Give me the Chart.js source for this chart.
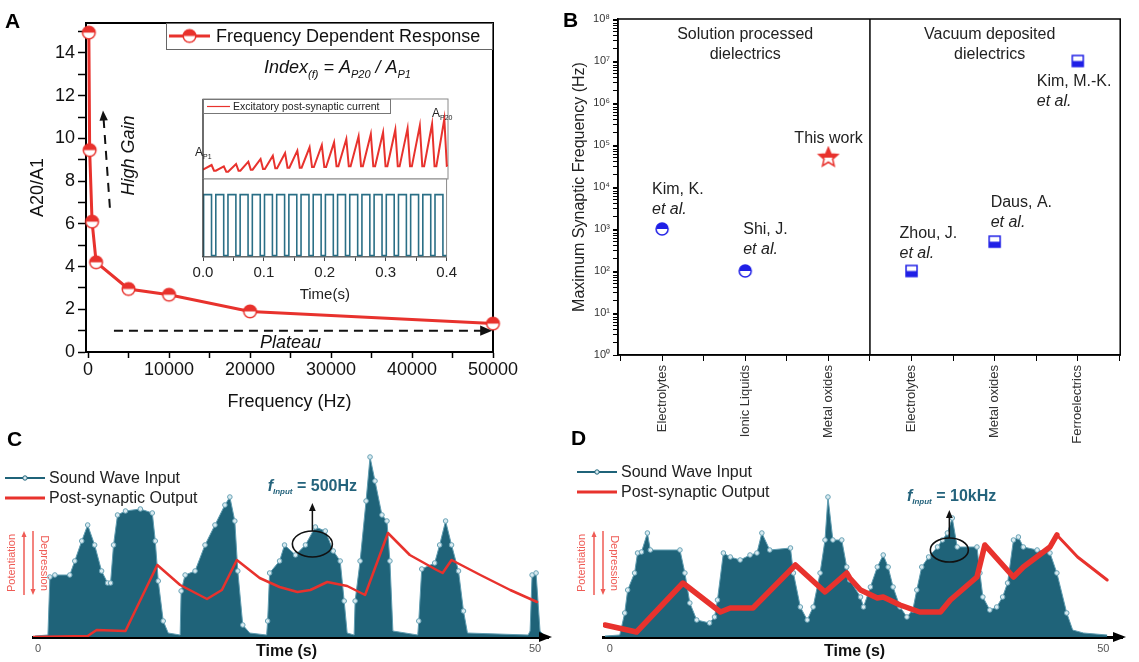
<!DOCTYPE html>
<html>
<head>
<meta charset="utf-8">
<script src="https://cdn.jsdelivr.net/npm/chart.js@4.4.1/dist/chart.umd.min.js"></script>
<style>
html,body{margin:0;padding:0;background:#fff;}
body{position:relative;width:1139px;height:662px;overflow:hidden;}
canvas{position:absolute;}
.lab{position:absolute;font:bold 21px "Liberation Sans",Arial,sans-serif;color:#000;line-height:1;}
</style>
</head>
<body>
<canvas id="cA" width="560" height="418" style="left:0;top:0"></canvas>
<canvas id="cI1" width="310" height="95" style="left:150px;top:90px"></canvas>
<canvas id="cI2" width="310" height="140" style="left:150px;top:170px"></canvas>
<canvas id="cB" width="579" height="455" style="left:560px;top:0"></canvas>
<canvas id="cC" width="560" height="242" style="left:0;top:420px"></canvas>
<canvas id="cD" width="579" height="242" style="left:560px;top:420px"></canvas>
<div class="lab" style="left:5px;top:10px">A</div>
<div class="lab" style="left:563px;top:9px">B</div>
<div class="lab" style="left:7px;top:428px">C</div>
<div class="lab" style="left:571px;top:427px">D</div>
<script>
// ---------------- DATA ----------------
// Panel A: frequency dependent response
const freqHz = [100, 200, 500, 1000, 5000, 10000, 20000, 50000];
const indexRatio = [14.95, 9.45, 6.1, 4.2, 2.95, 2.68, 1.9, 1.33];
const freqTicks = [0, 10000, 20000, 30000, 40000, 50000];
const freqMinorTicks = [0, 5000, 10000, 15000, 20000, 25000, 30000, 35000, 40000, 45000, 50000];
const ratioTicks = [0, 2, 4, 6, 8, 10, 12, 14];
const ratioMinorTicks = [0, 1, 2, 3, 4, 5, 6, 7, 8, 9, 10, 11, 12, 13, 14, 15];

// Inset: pulse train and EPSC
const pulseOn  = [0.001,0.021,0.041,0.061,0.081,0.101,0.121,0.141,0.161,0.181,0.201,0.221,0.241,0.261,0.281,0.301,0.321,0.341,0.361,0.381];
const pulseOff = [0.014,0.034,0.054,0.074,0.094,0.114,0.134,0.154,0.174,0.194,0.214,0.234,0.254,0.274,0.294,0.314,0.334,0.354,0.374,0.394];
const sqLow = 0.02, sqHigh = 0.8;
const epscStart = 28;
const epscPeak   = [42, 38, 45, 52, 60, 70, 78, 85, 95, 102, 110, 120, 128, 135, 140, 148, 152, 160, 165, 180];
const epscTrough = [25, 22, 25, 28, 30, 32, 34, 34, 36, 36, 38, 38, 38, 38, 38, 38, 38, 38, 38, 40];
const insetTimeTicks = [0, 0.1, 0.2, 0.3, 0.4];
const insetMinorTicks = [0, 0.05, 0.1, 0.15, 0.2, 0.25, 0.3, 0.35, 0.4];

// Panel B
const bCategories = ['Electrolytes', 'Ionic Liquids', 'Metal oxides', 'Electrolytes', 'Metal oxides', 'Ferroelectrics'];
const bRefs = ['Kim, K.', 'Shi, J.', 'This work', 'Zhou, J.', 'Daus, A.', 'Kim, M.-K.'];
const bMaxFreq = [1e3, 1e2, 5e4, 1e2, 5e2, 1e7];
const bGroups = [['Solution processed', 'dielectrics'], ['Vacuum deposited', 'dielectrics']];
const bTickLabels = ['10\u2070','10\u00b9','10\u00b2','10\u00b3','10\u2074','10\u2075','10\u2076','10\u2077','10\u2078'];
const bTickPos = [-0.5, 0, 0.5, 1, 1.5, 2, 2.5, 3, 3.5, 4, 4.5, 5, 5.5];

// Panel C (500 Hz)
const timeTicks = [0, 50];
const cTime  = [-0.3,1.0,1.2,1.7,3.2,3.7,4.4,5.0,5.7,6.4,7.0,7.3,7.6,8.0,8.8,10.3,11.5,11.8,12.1,12.6,13.1,14.3,14.4,14.8,15.8,16.8,17.8,18.8,19.3,19.8,20.1,20.6,21.3,23.0,23.1,23.3,24.3,24.8,25.9,26.9,27.9,28.9,29.7,30.4,30.8,31.1,31.8,31.9,32.4,33.0,33.4,33.9,34.6,35.1,35.4,35.7,38.2,38.3,38.6,39.9,40.4,41.0,41.6,42.3,42.8,43.2,49.3,49.5,49.7,50.1,50.5,51.0];
const cInput = [0.5,1,30,31,31,38,48,56,46,33,27,27,46,61,63,64,62,48,28,8,2,1,23,31,33,46,56,66,70,58,33,6,2,1,8,32,38,46,41,46,55,53,43,38,18,2,1,18,38,68,90,78,61,58,38,3,1,8,34,37,46,58,46,33,13,2,1,3,31,32,3,0.5];
const cOutTime = [-0.5,5.0,5.9,8.8,12.0,14.3,17.0,18.5,20.0,22.3,24.3,26.1,27.4,29.1,31.1,32.9,35.2,37.4,40.1,40.7,41.6,44.5,47.5,50.2];
const cOutput  = [0,0.5,3.5,3,36,26,19,23.5,38.5,29.5,25,22.5,23.5,27.5,25.5,21,52,41,33.5,32,38.5,31,23.5,17.5];

// Panel D (10 kHz)
const dTime  = [-0.5,1.0,1.5,1.8,2.5,2.8,3.2,3.8,4.1,7.1,7.6,8.1,8.8,10.1,10.6,10.9,11.5,12.2,13.2,14.2,14.9,15.4,16.2,18.3,18.6,19.3,20.0,20.6,21.3,21.8,22.1,22.6,23.5,24.0,24.3,25.4,25.7,26.4,27.1,27.7,28.2,28.7,29.4,30.1,30.7,31.1,31.6,32.3,33.2,33.7,34.2,34.7,35.2,37.2,37.5,37.8,38.5,39.2,39.8,40.3,40.9,41.4,41.9,43.3,44.6,45.3,46.3,46.9,48.0,50.4];
const dInput = [0.5,1,12,23.5,32,42,42.5,52,43.5,43.5,32,17,8.5,7,10,18.5,42,40,38.5,41,42,52,43.5,44.5,32,15,8.5,15,32,48.5,70,48.5,48.5,35,28.5,20,15,25,35,41,35,25,15,10,13.5,23.5,35,40,45,48.5,52,59.5,45,45,32,20,13.5,15,20,27,48.5,50,45,43.5,42,32,12,3.5,2,1];
const dOutTime = [-0.5,2.7,7.4,11.2,12.2,14.5,18.8,21.8,24.0,24.3,25.4,27.1,27.7,29.4,31.4,33.5,34.5,37.2,38.0,40.9,41.9,44.6,45.3,47.4,50.4];
const dOutput  = [6,2.5,27,12.5,14.5,14.5,36,22.5,32,29.5,23.5,19.5,20,16,12.5,12.5,18.5,30,46,30,35,45,51,40,28.5];

// ---------------- STYLE ----------------
const RED = '#e8322d', TEAL = '#1f6379', BLUE = '#1f1fe6', LABTEAL = '#24637c';
const FONT = '"Liberation Sans", Arial, Helvetica, sans-serif';
const f = (s, st) => (st ? st + ' ' : '') + s + 'px ' + FONT;

function shapePath(g, shape, cx, cy, r) {
  g.beginPath();
  if (shape === 'circle') g.arc(cx, cy, r, 0, Math.PI * 2);
  else if (shape === 'square') g.rect(cx - r, cy - r, 2 * r, 2 * r);
  else {
    for (let i = 0; i < 10; i++) {
      const ang = -Math.PI / 2 + i * Math.PI / 5, rad = i % 2 === 0 ? r : r * 0.45;
      const px = cx + rad * Math.cos(ang), py = cy + rad * Math.sin(ang);
      i === 0 ? g.moveTo(px, py) : g.lineTo(px, py);
    }
  }
  g.closePath();
}
function halfMarker(shape, r, color, fillTop) {
  const c = document.createElement('canvas');
  const s = Math.ceil(2 * r + 4); c.width = s; c.height = s;
  const g = c.getContext('2d'); const cx = s / 2, cy = s / 2;
  shapePath(g, shape, cx, cy, r); g.fillStyle = '#fff'; g.fill();
  g.save(); g.beginPath();
  if (fillTop) g.rect(0, 0, s, cy); else g.rect(0, cy, s, s);
  g.clip(); shapePath(g, shape, cx, cy, r); g.fillStyle = color; g.fill(); g.restore();
  shapePath(g, shape, cx, cy, r); g.lineWidth = 1.5; g.strokeStyle = color; g.stroke();
  return c;
}
const markA = halfMarker('circle', 6.3, RED, true);
const circB = halfMarker('circle', 6, BLUE, true);
const sqB = halfMarker('square', 5.5, BLUE, false);
const starR = halfMarker('star', 10, RED, true);
const bMarkers = [circB, circB, starR, sqB, sqB, sqB];

function line(ctx, x1, y1, x2, y2) { ctx.beginPath(); ctx.moveTo(x1, y1); ctx.lineTo(x2, y2); ctx.stroke(); }
function head(ctx, x, y, ang, size, w) {
  ctx.save(); ctx.translate(x, y); ctx.rotate(ang);
  ctx.beginPath(); ctx.moveTo(0, 0); ctx.lineTo(-size, -w); ctx.lineTo(-size, w); ctx.closePath(); ctx.fill(); ctx.restore();
}
function arrow(ctx, x1, y1, x2, y2, dash, lw, color, size) {
  const ang = Math.atan2(y2 - y1, x2 - x1);
  ctx.save(); ctx.strokeStyle = color; ctx.fillStyle = color; ctx.lineWidth = lw; ctx.setLineDash(dash);
  line(ctx, x1, y1, x2 - Math.cos(ang) * size * 0.8, y2 - Math.sin(ang) * size * 0.8);
  ctx.setLineDash([]); head(ctx, x2, y2, ang, size, size * 0.42); ctx.restore();
}
function rich(ctx, parts, x, y, align) {
  let w = 0; parts.forEach(p => { ctx.font = p[1]; w += ctx.measureText(p[0]).width; });
  let cx = align === 'center' ? x - w / 2 : (align === 'right' ? x - w : x);
  ctx.textAlign = 'left'; ctx.textBaseline = 'alphabetic';
  parts.forEach(p => { ctx.font = p[1]; ctx.fillText(p[0], cx, y + (p[2] || 0)); cx += ctx.measureText(p[0]).width; });
}
function rotText(ctx, txt, x, y, ang, font, color) {
  ctx.save(); ctx.translate(x, y); ctx.rotate(ang); ctx.font = font; ctx.fillStyle = color;
  ctx.textAlign = 'center'; ctx.textBaseline = 'middle'; ctx.fillText(txt, 0, 0); ctx.restore();
}
const frame = (w, color, id) => ({ id: id || 'frame', beforeDatasetsDraw(ch) {
  const { ctx, chartArea: a } = ch; ctx.save(); ctx.strokeStyle = color; ctx.lineWidth = w;
  ctx.strokeRect(a.left, a.top, a.right - a.left, a.bottom - a.top); ctx.restore(); } });
const base = { responsive: false, animation: false, events: [], plugins: { legend: { display: false }, tooltip: { enabled: false } } };

// ---------------- PANEL A ----------------
new Chart(document.getElementById('cA'), {
  type: 'line',
  data: { datasets: [{ data: freqHz.map((v, i) => ({ x: v, y: indexRatio[i] })), borderColor: RED, borderWidth: 3,
    pointStyle: markA, pointRadius: 7, tension: 0, fill: false, clip: false }] },
  options: Object.assign({}, base, {
    layout: { padding: { left: 0, top: 23, right: 67, bottom: 0 } },
    scales: {
      x: { type: 'linear', min: -250, max: 50000,
        afterBuildTicks: s => { s.ticks = freqMinorTicks.map(v => ({ value: v })); },
        ticks: { autoSkip: false, maxRotation: 0, padding: 1, color: '#111', font: { size: 18, family: FONT },
          callback: v => freqTicks.includes(v) ? String(v) : '' },
        grid: { drawOnChartArea: false, tickLength: 6, tickColor: '#000', tickWidth: 1.5 },
        border: { color: '#000', width: 2 },
        title: { display: true, text: 'Frequency (Hz)', color: '#111', font: { size: 18, family: FONT }, padding: { top: 0, bottom: 5 } },
        afterFit: s => { s.height = 66; } },
      y: { type: 'linear', min: 0, max: 15.4,
        afterBuildTicks: s => { s.ticks = ratioMinorTicks.map(v => ({ value: v })); },
        ticks: { autoSkip: false, padding: 3, color: '#111', font: { size: 18, family: FONT },
          callback: v => ratioTicks.includes(v) ? String(v) : '' },
        grid: { drawOnChartArea: false, tickLength: 8, tickColor: '#000', tickWidth: 1.5 },
        border: { color: '#000', width: 2 },
        title: { display: true, text: 'A20/A1', color: '#111', font: { size: 18, family: FONT }, padding: { top: 27, bottom: 0 } },
        afterFit: s => { s.width = 86; } }
    }
  }),
  plugins: [frame(2, '#000'), { id: 'annA', afterDraw(ch) {
    const { ctx, chartArea: a, scales: { x, y } } = ch;
    ctx.save();
    const bx = a.right - 327, by = a.top;
    ctx.strokeStyle = '#666'; ctx.lineWidth = 1; ctx.strokeRect(bx + 0.5, by + 0.5, 326, 26);
    ctx.strokeStyle = RED; ctx.lineWidth = 3; line(ctx, bx + 3, by + 13, bx + 44, by + 13);
    ctx.drawImage(markA, bx + 23.5 - markA.width / 2, by + 13 - markA.height / 2);
    ctx.fillStyle = '#111'; ctx.font = f(18); ctx.textBaseline = 'middle'; ctx.textAlign = 'left';
    ctx.fillText('Frequency Dependent Response', bx + 50, by + 14);
    rich(ctx, [['Index', f(18, 'italic')], ['(f)', f(11, 'italic'), 5], [' = A', f(18, 'italic')], ['P20', f(11, 'italic'), 5],
      [' / A', f(18, 'italic')], ['P1', f(11, 'italic'), 5]], x.getPixelForValue(30800), a.top + 50, 'center');
    arrow(ctx, x.getPixelForValue(2700), y.getPixelForValue(6.75), x.getPixelForValue(1850), y.getPixelForValue(11.3), [9, 7], 2, '#111', 10);
    rotText(ctx, 'High Gain', x.getPixelForValue(5050), y.getPixelForValue(9.2), -Math.PI / 2, f(18, 'italic'), '#111');
    arrow(ctx, x.getPixelForValue(3200), y.getPixelForValue(1), x.getPixelForValue(49900), y.getPixelForValue(1), [9, 6], 2, '#111', 12);
    ctx.fillStyle = '#111'; ctx.font = f(18, 'italic'); ctx.textAlign = 'center'; ctx.textBaseline = 'middle';
    ctx.fillText('Plateau', x.getPixelForValue(25000), y.getPixelForValue(0.42));
    ctx.restore();
  } }]
});

// ---------------- INSET ----------------
const epscPts = [{ x: 0, y: epscStart }];
pulseOn.forEach((on, i) => {
  const prev = i === 0 ? epscStart : epscTrough[i - 1];
  epscPts.push({ x: on, y: prev }, { x: pulseOff[i], y: epscPeak[i] }, { x: pulseOff[i] + 0.004, y: epscTrough[i] });
});
epscPts.push({ x: 0.4, y: epscTrough[epscTrough.length - 1] + 2 });
const sqPts = [{ x: 0, y: sqLow }];
pulseOn.forEach((on, i) => { sqPts.push({ x: on, y: sqLow }, { x: on, y: sqHigh }, { x: pulseOff[i], y: sqHigh }, { x: pulseOff[i], y: sqLow }); });
sqPts.push({ x: 0.4, y: sqLow });

new Chart(document.getElementById('cI1'), {
  type: 'line',
  data: { datasets: [{ data: epscPts, borderColor: RED, borderWidth: 2, pointRadius: 0, tension: 0, fill: false }] },
  options: Object.assign({}, base, {
    layout: { padding: { left: 53, top: 9, right: 12, bottom: 6 } },
    scales: { x: { type: 'linear', display: false, min: 0, max: 0.4 }, y: { display: false, min: 0, max: 240 } }
  }),
  plugins: [{ id: 'bgI1', beforeDraw(ch) { const { ctx, chartArea: a } = ch; ctx.save(); ctx.fillStyle = '#fff'; ctx.fillRect(a.left, a.top, a.right - a.left, a.bottom - a.top); ctx.restore(); } },
    frame(1, '#8a8a8a'), { id: 'annI1', afterDraw(ch) {
    const { ctx, chartArea: a } = ch; ctx.save();
    ctx.strokeStyle = '#333'; ctx.lineWidth = 1.2; line(ctx, a.left, a.top, a.left, a.bottom);
    ctx.fillStyle = '#fff'; ctx.fillRect(a.left + 1, a.top + 1, 186, 13);
    ctx.strokeStyle = '#777'; ctx.lineWidth = 1; ctx.strokeRect(a.left + 0.5, a.top + 0.5, 187, 14);
    ctx.strokeStyle = RED; ctx.lineWidth = 1.2; line(ctx, a.left + 4, a.top + 7.5, a.left + 27, a.top + 7.5);
    ctx.fillStyle = '#222'; ctx.font = f(10.5); ctx.textAlign = 'left'; ctx.textBaseline = 'middle';
    ctx.fillText('Excitatory post-synaptic current', a.left + 30, a.top + 8);
    ctx.fillStyle = '#222';
    rich(ctx, [['A', f(12)], ['P1', f(7), 3]], a.left - 8, a.top + 57, 'left');
    rich(ctx, [['A', f(12)], ['P20', f(7), 3]], a.right - 16, a.top + 18, 'left');
    ctx.restore();
  } }]
});

new Chart(document.getElementById('cI2'), {
  type: 'line',
  data: { datasets: [{ data: sqPts, borderColor: '#2a6f86', borderWidth: 1.6, pointRadius: 0, tension: 0, fill: false }] },
  options: Object.assign({}, base, {
    layout: { padding: { left: 53, top: 9, right: 12, bottom: 0 } },
    scales: {
      x: { type: 'linear', min: 0, max: 0.4,
        afterBuildTicks: s => { s.ticks = insetMinorTicks.map(v => ({ value: v })); },
        ticks: { autoSkip: false, maxRotation: 0, padding: 3, color: '#222', font: { size: 15, family: FONT },
          callback: v => insetTimeTicks.some(t => Math.abs(t - v) < 1e-9) ? v.toFixed(1) : '' },
        grid: { drawOnChartArea: false, tickLength: 4, tickColor: '#444' },
        border: { color: '#444', width: 1.2 },
        title: { display: true, text: 'Time(s)', color: '#222', font: { size: 15, family: FONT }, padding: { top: 0, bottom: 6 } },
        afterFit: s => { s.height = 53; } },
      y: { display: false, min: 0, max: 1 }
    }
  }),
  plugins: [{ id: 'bgI2', beforeDraw(ch) { const { ctx, chartArea: a } = ch; ctx.save(); ctx.fillStyle = '#fff'; ctx.fillRect(a.left, a.top, a.right - a.left, a.bottom - a.top); ctx.restore(); } },
    frame(1, '#8a8a8a'), { id: 'annI2', afterDraw(ch) {
    const { ctx, chartArea: a } = ch; ctx.save();
    ctx.strokeStyle = '#333'; ctx.lineWidth = 1.2; line(ctx, a.left, a.top, a.left, a.bottom);
    ctx.restore();
  } }]
});

// ---------------- PANEL B ----------------
const logTicks = [];
for (let e = 0; e < 8; e++) for (let m = 1; m < 10; m++) logTicks.push(m * Math.pow(10, e));
logTicks.push(1e8);
const bLabelOffsets = [[-10, -39], [-2, -41], [-34, -19], [-12, -37], [-4, -39], [-41, 21]];

new Chart(document.getElementById('cB'), {
  type: 'scatter',
  data: { datasets: [{ data: bMaxFreq.map((v, i) => ({ x: i, y: v })), pointStyle: bMarkers, pointRadius: 8, showLine: false }] },
  options: Object.assign({}, base, {
    layout: { padding: { left: 0, top: 19, right: 2, bottom: 0 } },
    scales: {
      x: { type: 'linear', min: -0.53, max: 5.51,
        afterBuildTicks: s => { s.ticks = bTickPos.map(v => ({ value: v })); },
        ticks: { autoSkip: false, minRotation: 90, maxRotation: 90, padding: 4, color: '#333', font: { size: 13, family: FONT },
          callback: v => Number.isInteger(v) ? bCategories[v] : '' },
        grid: { drawOnChartArea: false, tickLength: 6, tickColor: '#000' },
        border: { color: '#000', width: 1.5 },
        afterFit: s => { s.height = 100; } },
      y: { type: 'logarithmic', min: 1, max: 1e8,
        afterBuildTicks: s => { s.ticks = logTicks.map(v => ({ value: v })); },
        ticks: { autoSkip: false, padding: 3, color: '#333', font: { size: 11, family: FONT },
          callback: v => { const e = Math.round(Math.log10(v)); return Math.abs(Math.log10(v) - e) < 1e-9 ? bTickLabels[e] : ''; } },
        grid: { drawOnChartArea: false, tickLength: 5, tickColor: '#000' },
        border: { color: '#000', width: 1.5 },
        title: { display: true, text: 'Maximum Synaptic Frequency (Hz)', color: '#222', font: { size: 16, family: FONT }, padding: { top: 10, bottom: 0 } },
        afterFit: s => { s.width = 58; } }
    }
  }),
  plugins: [frame(1.5, '#000'), { id: 'annB', afterDraw(ch) {
    const { ctx, chartArea: a, scales: { x, y } } = ch; ctx.save();
    ctx.strokeStyle = '#000'; ctx.lineWidth = 1.5; const dx = x.getPixelForValue(2.5); line(ctx, dx, a.top, dx, a.bottom);
    ctx.fillStyle = '#222'; ctx.font = f(16); ctx.textAlign = 'center'; ctx.textBaseline = 'middle';
    [[1.0, bGroups[0]], [3.94, bGroups[1]]].forEach(([gx, g]) => {
      ctx.fillText(g[0], x.getPixelForValue(gx), a.top + 16); ctx.fillText(g[1], x.getPixelForValue(gx), a.top + 36);
    });
    ctx.textAlign = 'left';
    bRefs.forEach((r, i) => {
      const px = x.getPixelForValue(i) + bLabelOffsets[i][0], py = y.getPixelForValue(bMaxFreq[i]) + bLabelOffsets[i][1];
      ctx.font = f(16); ctx.fillText(r, px, py);
      if (r !== 'This work') { ctx.font = f(16, 'italic'); ctx.fillText('et al.', px, py + 20); }
    });
    ctx.restore();
  } }]
});

// ---------------- PANELS C & D ----------------
function soundAnn(cfg) {
  return { id: 'ann' + cfg.id, afterDraw(ch) {
    const { ctx, chartArea: a, scales: { x, y } } = ch; ctx.save();
    ctx.fillStyle = '#000'; head(ctx, a.right + 4, a.bottom, 0, 13, 5);
    ctx.fillStyle = '#111'; ctx.font = f(16, 'bold'); ctx.textAlign = 'center'; ctx.textBaseline = 'alphabetic';
    ctx.fillText('Time (s)', x.getPixelForValue(cfg.titleT), a.bottom + 19);
    // legend
    const lx = a.left + cfg.legDx, l1 = a.top + cfg.legY1, l2 = l1 + 20;
    ctx.strokeStyle = TEAL; ctx.lineWidth = 2; line(ctx, lx, l1, lx + 40, l1);
    ctx.beginPath(); ctx.arc(lx + 20, l1, 2.2, 0, Math.PI * 2); ctx.fillStyle = '#d8eaf0'; ctx.fill(); ctx.lineWidth = 1; ctx.stroke();
    ctx.strokeStyle = RED; ctx.lineWidth = 3; line(ctx, lx, l2, lx + 40, l2);
    ctx.fillStyle = '#222'; ctx.font = f(16); ctx.textAlign = 'left'; ctx.textBaseline = 'middle';
    ctx.fillText('Sound Wave Input', lx + 44, l1 + 1); ctx.fillText('Post-synaptic Output', lx + 44, l2 + 1);
    // potentiation / depression
    const pc = a.left + cfg.potDx, my = a.top + 126, PR = '#ef5b55';
    rotText(ctx, 'Potentiation', pc, my, -Math.PI / 2, f(11), PR);
    ctx.fillStyle = PR; ctx.strokeStyle = PR;
    arrow(ctx, pc + 12, my + 32, pc + 12, my - 32, [], 1.5, PR, 6);
    arrow(ctx, pc + 21, my - 32, pc + 21, my + 32, [], 1.5, PR, 6);
    rotText(ctx, 'Depression', pc + 32, my, Math.PI / 2, f(11), PR);
    // ellipse + arrow
    const ex = x.getPixelForValue(cfg.ell[0]), ey = y.getPixelForValue(cfg.ell[1]);
    ctx.strokeStyle = '#111'; ctx.lineWidth = 1.6; ctx.beginPath(); ctx.ellipse(ex, ey, cfg.ell[2], cfg.ell[3], 0, 0, Math.PI * 2); ctx.stroke();
    arrow(ctx, ex, ey - cfg.ell[3], ex, ey - cfg.ell[3] - 28, [], 1.5, '#111', 8);
    ctx.fillStyle = LABTEAL;
    rich(ctx, [['f', f(16, 'bold italic')], ['Input', f(8, 'bold italic'), 3], [' = ' + cfg.fText, f(16, 'bold')]],
      x.getPixelForValue(cfg.fl[0]), y.getPixelForValue(cfg.fl[1]), 'left');
    ctx.restore();
  } };
}
function soundChart(cfg) {
  return new Chart(document.getElementById(cfg.id), {
    type: 'line',
    data: { datasets: [
      { data: cfg.outT.map((t, i) => ({ x: t, y: cfg.outV[i] })), borderColor: RED, borderWidth: cfg.redW,
        segment: { borderWidth: cfg.segW }, pointRadius: 0, fill: false, order: 0, tension: 0,
        borderJoinStyle: 'round', borderCapStyle: 'round' },
      { data: cfg.inT.map((t, i) => ({ x: t, y: cfg.inV[i] })), borderColor: '#5f9cb0', borderWidth: 1,
        backgroundColor: TEAL, fill: 'origin', tension: 0, order: 1,
        pointRadius: c => (c.raw && c.raw.y > 5 ? 2.3 : 0), pointBackgroundColor: '#d8eaf0', pointBorderColor: '#6aa3b6', pointBorderWidth: 1 }
    ] },
    options: Object.assign({}, base, {
      layout: { padding: { left: cfg.padL, right: cfg.padR, top: 17, bottom: 0 } },
      scales: {
        x: { type: 'linear', min: cfg.xmin, max: cfg.xmax,
          afterBuildTicks: s => { s.ticks = timeTicks.map(v => ({ value: v })); },
          ticks: { autoSkip: false, maxRotation: 0, padding: 5, color: '#555', font: { size: 11, family: FONT } },
          grid: { display: false, drawTicks: false },
          border: { display: true, color: '#000', width: 3 },
          afterFit: s => { s.height = 25; } },
        y: { display: false, min: 0, max: 100 }
      }
    }),
    plugins: [soundAnn(cfg)]
  });
}
soundChart({ id: 'cC', inT: cTime, inV: cInput, outT: cOutTime, outV: cOutput, xmin: -0.5, xmax: 51.3, padL: 33, padR: 12,
  redW: 2.5, segW: undefined, titleT: 25, legDx: -28, legY1: 41, potDx: -21, ell: [27.6, 46.5, 20, 13], fl: [23.1, 73], fText: '500Hz' });
soundChart({ id: 'cD', inT: dTime, inV: dInput, outT: dOutTime, outV: dOutput, xmin: -0.7, xmax: 51.9, padL: 43, padR: 17,
  redW: 5, segW: c => (c.p0.parsed.x >= 45 ? 3 : 5.5), titleT: 24.8, legDx: -26, legY1: 35, potDx: -21, ell: [34.4, 43.5, 19, 12], fl: [30.1, 68], fText: '10kHz' });
</script>
</body>
</html>
